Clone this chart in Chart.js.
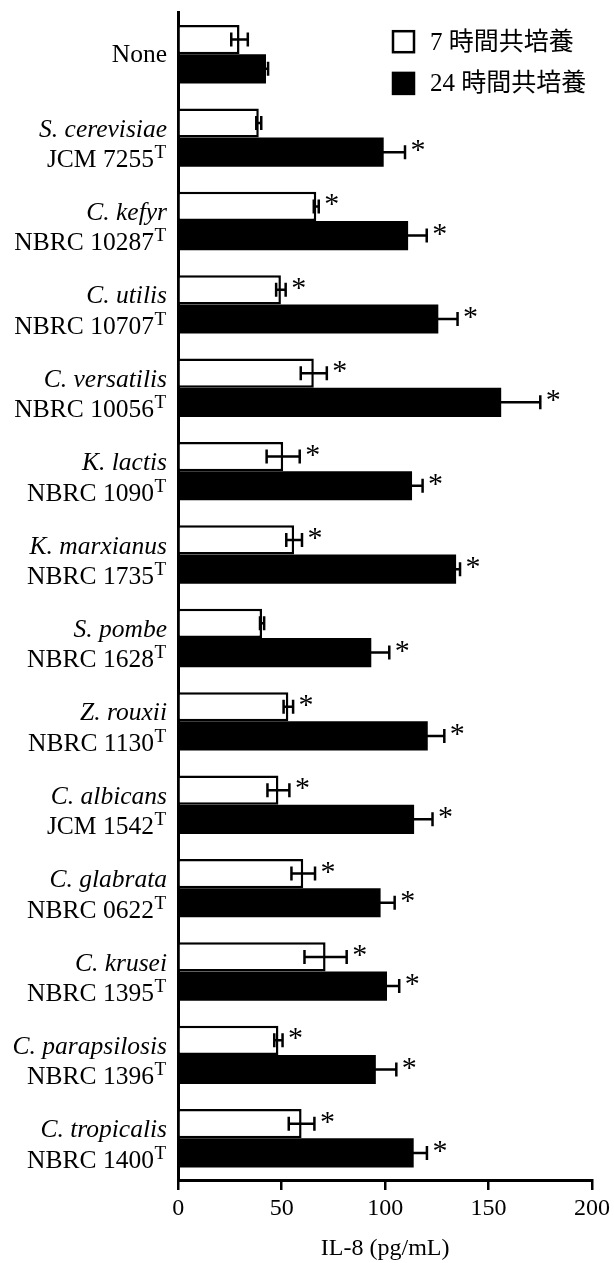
<!DOCTYPE html>
<html>
<head>
<meta charset="utf-8">
<script src="https://cdn.jsdelivr.net/npm/chart.js@4"></script>
<style>
  html, body { margin: 0; padding: 0; background: #fff; }
  #wrap { width: 614px; height: 1263px; position: relative; }
</style>
</head>
<body>
<div id="wrap"><canvas id="il8-chart"></canvas></div>
<script>
// species (italic line) and strain (second line, with superscript T)
const species = ['None', 'S. cerevisiae', 'C. kefyr', 'C. utilis', 'C. versatilis', 'K. lactis',
    'K. marxianus', 'S. pombe', 'Z. rouxii', 'C. albicans', 'C. glabrata', 'C. krusei',
    'C. parapsilosis', 'C. tropicalis'];
const strains = ['', 'JCM 7255', 'NBRC 10287', 'NBRC 10707', 'NBRC 10056', 'NBRC 1090',
    'NBRC 1735', 'NBRC 1628', 'NBRC 1130', 'JCM 1542', 'NBRC 0622', 'NBRC 1395',
    'NBRC 1396', 'NBRC 1400'];

const seriesNames = ['7 時間共培養', '24 時間共培養'];

// IL-8 (pg/mL), mean and error
const il8At7h = [29.6, 38.9, 66.7, 49.6, 65.5, 50.7, 56.0, 40.5, 53.2, 48.4, 60.4, 71.2, 48.4, 59.6];
const err7h = [4.0, 1.2, 1.2, 2.3, 6.3, 8.0, 3.8, 1.0, 2.3, 5.3, 5.7, 10.2, 2.0, 6.2];
const il8At24h = [42.4, 99.3, 111.1, 125.7, 156.1, 113.0, 134.3, 93.3, 120.6, 114.0, 97.8, 100.9, 95.5, 113.8];
const err24h = [1.0, 10.3, 9.0, 9.3, 18.9, 5.1, 1.9, 8.7, 8.0, 8.9, 6.8, 5.9, 9.9, 6.4];

// significance marks (*)
const sig7h = [false, false, true, true, true, true, true, false, true, true, true, true, true, true];
const sig24h = [false, true, true, true, true, true, true, true, true, true, true, true, true, true];

const xTicks = [0, 50, 100, 150, 200];

const SERIF = "'Liberation Serif', 'Times New Roman', serif";

// error bars and asterisks on top of the bars
const errorBarPlugin = {
    id: 'errorBars',
    afterDatasetsDraw(chart) {
        const ctx = chart.ctx;
        const x = chart.scales.x;
        const errs = [err7h, err24h];
        const sigs = [sig7h, sig24h];
        ctx.save();
        ctx.strokeStyle = '#000';
        ctx.fillStyle = '#000';
        ctx.lineWidth = 2.5;
        ctx.font = '30px ' + SERIF;
        ctx.textAlign = 'center';
        ctx.textBaseline = 'alphabetic';
        const m = ctx.measureText('*');
        const starShift = (m.actualBoundingBoxAscent - m.actualBoundingBoxDescent) / 2;
        chart.data.datasets.forEach(function(ds, d) {
            const meta = chart.getDatasetMeta(d);
            meta.data.forEach(function(bar, i) {
                const v = ds.data[i];
                const e = errs[d][i];
                const x1 = x.getPixelForValue(v - e);
                const x2 = x.getPixelForValue(v + e);
                const y = bar.y;
                ctx.beginPath();
                ctx.moveTo(x1, y);
                ctx.lineTo(x2, y);
                ctx.moveTo(x1, y - 7);
                ctx.lineTo(x1, y + 7);
                ctx.moveTo(x2, y - 7);
                ctx.lineTo(x2, y + 7);
                ctx.stroke();
                if (sigs[d][i]) {
                    ctx.fillText('*', x2 + 13, y - 6.5 + starShift);
                }
            });
        });
        ctx.restore();
    }
};

// two-line category labels: italic species, strain with superscript T
const labelPlugin = {
    id: 'speciesLabels',
    afterDraw(chart) {
        const ctx = chart.ctx;
        const y = chart.scales.y;
        const right = 166;
        ctx.save();
        ctx.fillStyle = '#000';
        ctx.textAlign = 'right';
        ctx.textBaseline = 'alphabetic';
        species.forEach(function(name, i) {
            const cy = y.getPixelForValue(i);
            if (!strains[i]) {
                ctx.font = '25.5px ' + SERIF;
                ctx.fillText(name, right + 1, cy + 8);
                return;
            }
            ctx.font = 'italic 25.5px ' + SERIF;
            ctx.fillText(name, right + 1, cy - 1);
            ctx.font = '19px ' + SERIF;
            const tw = ctx.measureText('T').width;
            ctx.fillText('T', right, cy + 20.5);
            ctx.font = '25.5px ' + SERIF;
            ctx.fillText(strains[i], right - tw - 0.5, cy + 29.5);
        });
        ctx.restore();
    }
};

// legend in the upper right corner
const legendPlugin = {
    id: 'boxLegend',
    afterDraw(chart) {
        const ctx = chart.ctx;
        const rows = [41.7, 83.4];
        ctx.save();
        chart.data.datasets.forEach(function(ds, d) {
            const cy = rows[d];
            ctx.fillStyle = ds.backgroundColor;
            ctx.fillRect(393, cy - 10.5, 21, 21);
            ctx.strokeStyle = '#000';
            ctx.lineWidth = 2.5;
            ctx.strokeRect(393, cy - 10.5, 21, 21);
            ctx.fillStyle = '#000';
            ctx.font = "25px 'Liberation Serif', 'Noto Sans CJK JP', serif";
            ctx.textAlign = 'left';
            ctx.textBaseline = 'middle';
            ctx.fillText(ds.label, 430, cy + 1.5);
        });
        ctx.restore();
    }
};

document.addEventListener('DOMContentLoaded', function() {
    const canvas = document.getElementById('il8-chart');

    const data = {
        labels: species,
        datasets: [
            {
                label: seriesNames[0],
                data: il8At7h,
                backgroundColor: '#ffffff',
                borderColor: '#000000',
                borderWidth: 2.5,
                categoryPercentage: 0.7,
                barPercentage: 1.0
            },
            {
                label: seriesNames[1],
                data: il8At24h,
                backgroundColor: '#000000',
                borderColor: '#000000',
                borderWidth: 0,
                categoryPercentage: 0.7,
                barPercentage: 1.0
            }
        ]
    };

    const options = {
        indexAxis: 'y',
        responsive: true,
        maintainAspectRatio: false,
        animation: false,
        layout: {
            padding: { top: 12.5, right: 21.7, left: 0, bottom: 0 }
        },
        plugins: {
            legend: { display: false },
            tooltip: { enabled: false }
        },
        scales: {
            x: {
                min: 0,
                max: 200,
                afterBuildTicks: function(scale) {
                    scale.ticks = xTicks.map(function(v) { return { value: v }; });
                },
                afterFit: function(scale) {
                    scale.height = 83;
                },
                ticks: {
                    color: '#000',
                    padding: 4,
                    maxRotation: 0,
                    font: { family: SERIF, size: 24 }
                },
                grid: {
                    display: true,
                    drawOnChartArea: false,
                    drawTicks: true,
                    tickLength: 10,
                    color: '#000',
                    lineWidth: 2.5
                },
                border: { display: true, color: '#000', width: 3 },
                title: {
                    display: true,
                    text: 'IL-8 (pg/mL)',
                    color: '#000',
                    font: { family: SERIF, size: 24 },
                    padding: { top: 0, bottom: 0 }
                }
            },
            y: {
                ticks: { display: false },
                grid: { display: false },
                border: { display: true, color: '#000', width: 3 },
                afterFit: function(scale) {
                    scale.width = 178.3;
                }
            }
        }
    };

    new Chart(canvas, {
        type: 'bar',
        data: data,
        options: options,
        plugins: [errorBarPlugin, labelPlugin, legendPlugin]
    });
});
</script>
</body>
</html>
